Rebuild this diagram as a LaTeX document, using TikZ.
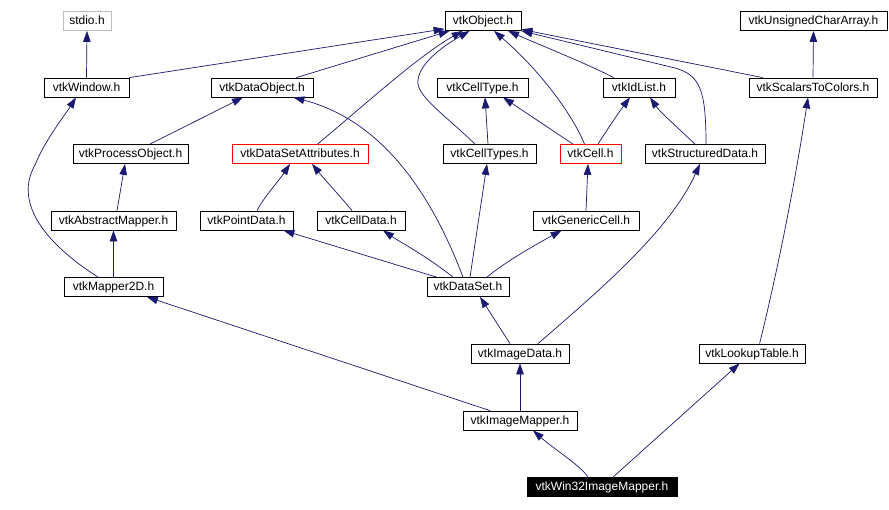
\documentclass[tikz,border=0pt]{standalone}
\usepackage{fontspec}
\setmainfont{Liberation Sans}
\usetikzlibrary{arrows.meta}
\definecolor{edgeblue}{RGB}{25,25,112}
\begin{document}
\begin{tikzpicture}[x=1pt,y=-1pt,
 box/.style={draw=black, line width=0.8pt, fill=white, inner sep=0pt, minimum height=19pt, text height=9pt, text depth=2pt, font=\fontsize{12}{14}\selectfont, text=black},
 gbox/.style={box, draw=black!25},
 rbox/.style={box, draw=red},
 bbox/.style={box, fill=black, text=white},
 dep/.style={draw=edgeblue, line width=0.7pt, -{Triangle[length=11pt,width=7.5pt]}}]
\useasboundingbox[fill=white] (0,0) rectangle (889,509);
% row 1
\node[gbox, minimum width=48pt] (stdio) at (87,21) {stdio.h};
\node[box, minimum width=76pt] (obj) at (483,21) {vtkObject.h};
\node[box, minimum width=147pt] (uca) at (813.5,21) {vtkUnsignedCharArray.h};
% row 2
\node[box, minimum width=85pt] (win) at (86.5,87.5) {vtkWindow.h};
\node[box, minimum width=102pt] (dobj) at (262,87.5) {vtkDataObject.h};
\node[box, minimum width=91pt] (ctype) at (482.5,87.5) {vtkCellType.h};
\node[box, minimum width=72pt] (idl) at (639,87.5) {vtkIdList.h};
\node[box, minimum width=128pt] (s2c) at (813,87.5) {vtkScalarsToColors.h};
% row 3
\node[box, minimum width=115pt] (po) at (130.5,154) {vtkProcessObject.h};
\node[rbox, minimum width=136pt] (dsa) at (300,154) {vtkDataSetAttributes.h};
\node[box, minimum width=93pt] (ctypes) at (489.5,154) {vtkCellTypes.h};
\node[rbox, minimum width=61pt] (cell) at (590.5,154) {vtkCell.h};
\node[box, minimum width=120pt] (sd) at (705,154) {vtkStructuredData.h};
% row 4
\node[box, minimum width=125pt] (am) at (113.5,220.5) {vtkAbstractMapper.h};
\node[box, minimum width=93pt] (pd) at (246.5,220.5) {vtkPointData.h};
\node[box, minimum width=88pt] (cd) at (361,220.5) {vtkCellData.h};
\node[box, minimum width=106pt] (gc) at (586,220.5) {vtkGenericCell.h};
% row 5
\node[box, minimum width=99pt] (m2d) at (113.5,287) {vtkMapper2D.h};
\node[box, minimum width=82pt] (ds) at (468,287) {vtkDataSet.h};
% row 6
\node[box, minimum width=98pt] (id) at (520,353.5) {vtkImageData.h};
\node[box, minimum width=106pt] (lt) at (752,353.5) {vtkLookupTable.h};
% row 7
\node[box, minimum width=114pt] (im) at (520,420.5) {vtkImageMapper.h};
% row 8
\node[bbox, minimum width=150pt] (w32) at (602,487) {vtkWin32ImageMapper.h};

% edges to vtkObject
\draw[dep] (win.north east) -- ([yshift=2pt]obj.south west);
\draw[dep] ([xshift=-17pt]dobj.north east) -- ([xshift=5pt]obj.south west);
\draw[dep] ([xshift=86pt]dsa.north west) .. controls (370,100) and (420,55) .. ([xshift=18pt]obj.south west);
\draw[dep] ([xshift=-14.5pt]ctypes.north) .. controls (445,115) and (415,95) .. (418,80) .. controls (420,62) and (445,45) .. ([xshift=25pt]obj.south west);
\draw[dep] ([xshift=-6pt]cell.north) .. controls (575,120) and (545,75) .. ([xshift=11pt]obj.south);
\draw[dep] ([xshift=11pt]idl.north west) .. controls (590,65) and (540,45) .. ([xshift=25pt]obj.south);
\draw[dep] ([xshift=1pt]sd.north) .. controls (706,90) and (700,75) .. (675,68) -- (obj.south east);
\draw[dep] ([xshift=14pt]s2c.north west) -- ([yshift=1.5pt]obj.south east);
% other edges
\draw[dep] (win.north) -- (stdio.south);
\draw[dep] (s2c.north) -- (uca.south);
\draw[dep] ([xshift=19.5pt]po.north) -- ([xshift=-19pt]dobj.south);
\draw[dep] ([xshift=-5pt]ds.north) .. controls (430,190) and (380,120) .. ([xshift=-20pt]dobj.south east);
\draw[dep] ([xshift=-1.5pt]ctypes.north) -- ([xshift=2.5pt]ctype.south);
\draw[dep] ([xshift=-17.5pt]cell.north) -- ([xshift=20.5pt]ctype.south);
\draw[dep] ([xshift=7.5pt]cell.north) .. controls (610,125) and (622,108) .. ([xshift=-9pt]idl.south);
\draw[dep] ([xshift=-10pt]sd.north) .. controls (675,125) and (660,112) .. ([xshift=11pt]idl.south);
\draw[dep] ([xshift=3.5pt]am.north) -- ([xshift=-5.5pt]po.south);
\draw[dep] ([xshift=-15.5pt]m2d.north) .. controls (40,240) and (15,200) .. (35,165) .. controls (45,140) and (65,115) .. ([xshift=-10.5pt]win.south);
\draw[dep] (m2d.north) -- (am.south);
\draw[dep] ([xshift=10.5pt]pd.north) .. controls (264,197) and (278,182) .. ([xshift=-10pt]dsa.south);
\draw[dep] ([xshift=-9pt]cd.north) .. controls (340,196) and (325,180) .. ([xshift=12pt]dsa.south);
\draw[dep] ([xshift=10pt]ds.north west) -- ([xshift=-10pt]pd.south east);
\draw[dep] ([xshift=-15pt]ds.north) .. controls (425,255) and (400,242) .. ([xshift=22pt]cd.south);
\draw[dep] ([xshift=2pt]ds.north) -- ([xshift=-2.5pt]ctypes.south);
\draw[dep] ([xshift=19pt]ds.north) .. controls (505,262) and (535,245) .. ([xshift=29pt]gc.south west);
\draw[dep] (gc.north) -- ([xshift=-2.5pt]cell.south);
\draw[dep] ([xshift=-10pt]id.north) -- ([xshift=12pt]ds.south);
\draw[dep] ([xshift=18pt]id.north) .. controls (600,290) and (670,230) .. ([xshift=-5pt]sd.south);
\draw[dep] (im.north) -- (id.south);
\draw[dep] ([xshift=-30pt]im.north) -- ([xshift=-16.5pt]m2d.south east);
\draw[dep] ([xshift=61pt]lt.north west) .. controls (785,240) and (800,150) .. ([xshift=-5pt]s2c.south);
\draw[dep] ([xshift=-14pt]w32.north) .. controls (580,465) and (555,450) .. ([xshift=13pt]im.south);
\draw[dep] ([xshift=11pt]w32.north) -- ([xshift=41pt]lt.south west);
\end{tikzpicture}
\end{document}
